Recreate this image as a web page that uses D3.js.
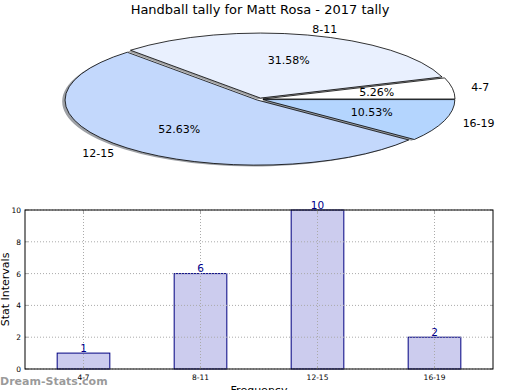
<!DOCTYPE html>
<html><head><meta charset="utf-8">
<script src="https://cdn.jsdelivr.net/npm/d3@7"></script>
<style>body{margin:0;background:#fff}svg{display:block;font-family:"DejaVu Sans",sans-serif}</style>
</head><body>
<svg id="c" width="520" height="390"></svg>
<script>
const title = "Handball tally for Matt Rosa - 2017 tally";
const categories = ["4-7", "8-11", "12-15", "16-19"];
const values = [1, 6, 10, 2];
const pieColors = ["#ffffff", "#e9f0fe", "#c3d8fc", "#b4d5fe"];
const yTicks = [0, 2, 4, 6, 8, 10];
const xLabel = "Frequency";
const yLabel = "Stat Intervals";
const watermark = "Dream-Stats.com";

const svg = d3.select("#c");
svg.append("rect").attr("width",520).attr("height",390).attr("fill","#fff");

svg.append("text").attr("x",260).attr("y",14).attr("text-anchor","middle")
  .attr("font-size",13).attr("fill","#000").text(title);

// ---- Pie (matplotlib-style ellipse) ----
const cx = 259.6, cy = 99.2, rx = 192, ry = 65;
const explode = 0.018;
const sx = d3.scaleLinear().domain([-1,1]).range([cx-rx, cx+rx]);
const sy = d3.scaleLinear().domain([-1,1]).range([cy+ry, cy-ry]);
const total = d3.sum(values);
const pieGen = d3.pie().sort(null).startAngle(0).endAngle(2*Math.PI);
const arcs = pieGen(values).map((d,i)=>{
  const t1 = d.startAngle, t2 = d.endAngle; // treat as mpl ccw from east
  return {i, t1, t2, mid:(t1+t2)/2, v:d.value};
});
const arcGen = d3.arc().innerRadius(0).outerRadius(1);
function wedgePath(a){ return arcGen({startAngle: Math.PI/2 - a.t2, endAngle: Math.PI/2 - a.t1}); }
function off(a){ return [explode*Math.cos(a.mid), explode*Math.sin(a.mid)]; }
const pieG = svg.append("g");
// shadows
arcs.forEach(a=>{
  const [ox,oy] = off(a);
  const c = d3.rgb(pieColors[a.i]);
  const sc = d3.rgb(c.r*0.3, c.g*0.3, c.b*0.3);
  pieG.append("path").attr("d", wedgePath(a))
    .attr("transform", `translate(${sx(ox-0.015)},${sy(oy-0.02)}) scale(${rx},${ry})`)
    .attr("fill", sc).attr("fill-opacity",0.5).attr("stroke","none");
});
arcs.forEach(a=>{
  const [ox,oy] = off(a);
  pieG.append("path").attr("d", wedgePath(a))
    .attr("transform", `translate(${sx(ox)},${sy(oy)}) scale(${rx},${ry})`)
    .attr("fill", pieColors[a.i]).attr("stroke","#000").attr("stroke-width",0.8)
    .attr("vector-effect","non-scaling-stroke");
});
arcs.forEach(a=>{
  const [ox,oy] = off(a);
  const c = Math.cos(a.mid), s = Math.sin(a.mid);
  pieG.append("text").attr("x", sx(ox + 1.1*c)).attr("y", sy(oy + 1.1*s))
    .attr("dy","0.35em").attr("font-size",11)
    .attr("text-anchor", c > 0 ? "start" : "end").text(categories[a.i]);
  pieG.append("text").attr("x", sx(ox + 0.6*c)).attr("y", sy(oy + 0.6*s))
    .attr("dy","0.35em").attr("font-size",11).attr("text-anchor","middle")
    .text((a.v/total*100).toFixed(2)+"%");
});

// ---- Bar chart ----
const L = 25, R = 493, T = 210, B = 369;
const x = d3.scaleBand().domain(categories).range([L,R]).paddingInner(0.55).paddingOuter(0.275);
const y = d3.scaleLinear().domain([0,10]).range([B,T]);
const g = svg.append("g");
// bars
g.selectAll(".bar").data(values).join("rect")
  .attr("x",(d,i)=>x(categories[i])).attr("width",x.bandwidth())
  .attr("y",d=>y(d)).attr("height",d=>B-y(d))
  .attr("fill","#ccccee").attr("stroke","#000080").attr("stroke-width",1);
// grid (drawn over bars, as in the reference)
g.selectAll(".hg").data(yTicks).join("line")
  .attr("x1",L).attr("x2",R).attr("y1",d=>y(d)).attr("y2",d=>y(d))
  .attr("stroke","#aaaaaa").attr("stroke-width",1).attr("stroke-dasharray","1,2");
g.selectAll(".vg").data(categories).join("line")
  .attr("x1",d=>x(d)+x.bandwidth()/2).attr("x2",d=>x(d)+x.bandwidth()/2)
  .attr("y1",T).attr("y2",B)
  .attr("stroke","#aaaaaa").attr("stroke-width",1).attr("stroke-dasharray","1,2");
// value labels
g.selectAll(".vl").data(values).join("text")
  .attr("x",(d,i)=>x(categories[i])+x.bandwidth()/2).attr("y",d=>y(d)-1.5)
  .attr("text-anchor","middle").attr("font-size",10.5).attr("fill","#00008b").text(d=>d);
// axes
const yAxis = d3.axisLeft(y).tickValues(yTicks).tickSize(0).tickPadding(4);
const ya = g.append("g").attr("transform",`translate(${L},0)`).call(yAxis);
ya.select(".domain").remove();
ya.selectAll("text").attr("font-size",7.5).attr("font-family","DejaVu Sans").attr("fill","#000");
const xAxis = d3.axisBottom(x).tickSize(0).tickPadding(6);
const xa = g.append("g").attr("transform",`translate(0,${B})`).call(xAxis);
xa.select(".domain").remove();
xa.selectAll("text").attr("font-size",7.5).attr("font-family","DejaVu Sans").attr("fill","#000");
// inner tick marks
yTicks.forEach(t=>{
  g.append("line").attr("x1",L).attr("x2",L+3).attr("y1",y(t)).attr("y2",y(t)).attr("stroke","#aaa");
  g.append("line").attr("x1",R-3).attr("x2",R).attr("y1",y(t)).attr("y2",y(t)).attr("stroke","#aaa");
});
categories.forEach(c=>{
  const xc = x(c)+x.bandwidth()/2;
  g.append("line").attr("x1",xc).attr("x2",xc).attr("y1",B-3).attr("y2",B).attr("stroke","#aaa");
  g.append("line").attr("x1",xc).attr("x2",xc).attr("y1",T).attr("y2",T+3).attr("stroke","#aaa");
});
g.append("rect").attr("x",L).attr("y",T).attr("width",R-L).attr("height",B-T)
  .attr("fill","none").attr("stroke","#000").attr("stroke-width",1);
g.append("text").attr("x",(L+R)/2).attr("y",394).attr("text-anchor","middle")
  .attr("font-size",11).text(xLabel);
g.append("text").attr("transform",`translate(9,${(T+B)/2}) rotate(-90)`)
  .attr("text-anchor","middle").attr("font-size",11).text(yLabel);
svg.append("text").attr("x",0).attr("y",385).attr("font-size",11).attr("font-weight","bold")
  .attr("fill","#888").attr("fill-opacity",0.85).text(watermark);
</script>
</body></html>
